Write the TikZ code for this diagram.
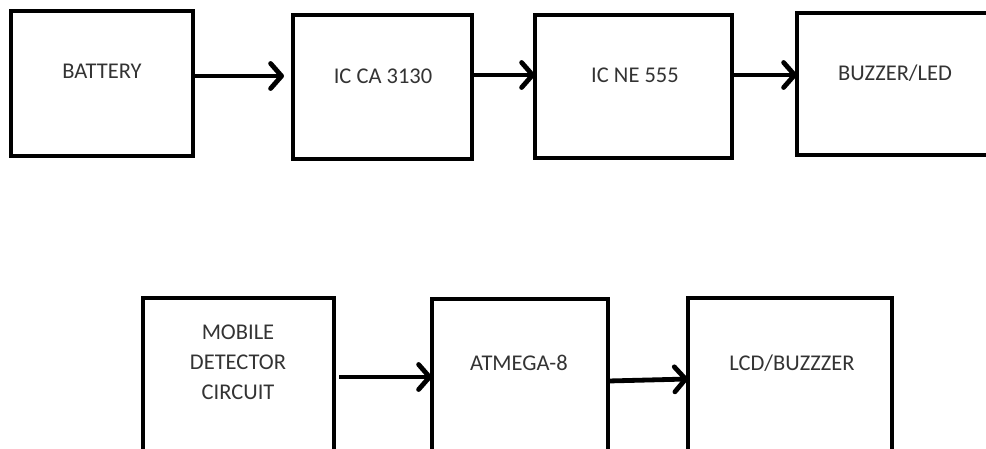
\documentclass[tikz,border=0pt]{standalone}
\usepackage{fontspec}
\setmainfont{Carlito}
\usetikzlibrary{arrows.meta}
\begin{document}
\begin{tikzpicture}[x=1pt,y=-1pt,
  blk/.style 2 args={draw=black, line width=3.4pt, inner sep=0pt, outer sep=0pt,
    minimum width=#1pt, minimum height=#2pt, anchor=north west},
  lbl/.style={font=\fontsize{22.5}{30}\selectfont, text=black!80, inner sep=0pt, align=center},
  arr/.style={line width=4.8pt, -{Straight Barb[length=11pt,width=25pt,round]}}]
\useasboundingbox (0,0) rectangle (986,448);
\clip (0,0) rectangle (986,448);
% top row
\node[blk={182}{145}] (bat) at (11,11) {};
\node[blk={179}{144}] (icca) at (293,15) {};
\node[blk={197}{143}] (ne) at (535,15) {};
\node[blk={220}{142}] (buz) at (797,13) {};
\node[lbl] (tbat) at (102,71) {BATTERY};
\node[lbl] (ticca) at (383,76) {IC CA 3130};
\node[lbl] (tne) at (635,75) {IC NE 555};
\node[lbl] (tbuz) at (895,73) {BUZZER/LED};
% bottom row
\node[blk={191}{180}] (mob) at (143,298) {};
\node[blk={176}{180}] (atm) at (432,299) {};
\node[blk={204}{180}] (lcd) at (688,298) {};
\node[lbl] (tmob) at (238,362) {MOBILE\\DETECTOR\\CIRCUIT};
\node[lbl] (tatm) at (519,363) {ATMEGA-8};
\node[lbl] (tlcd) at (792,363) {LCD/BUZZZER};
% arrows
\draw[arr, shorten >=9pt] (bat.east |- 0,76) -- (icca.west |- 0,76);
\draw[arr] (icca.east |- 0,75) -- (ne.west |- 0,75);
\draw[arr] (ne.east |- 0,75) -- (buz.west |- 0,75);
\draw[arr, shorten <=5pt] (mob.east |- 0,377) -- (atm.west |- 0,377);
\draw[arr] (atm.east |- 0,381) -- (lcd.west |- 0,379);
\end{tikzpicture}
\end{document}
